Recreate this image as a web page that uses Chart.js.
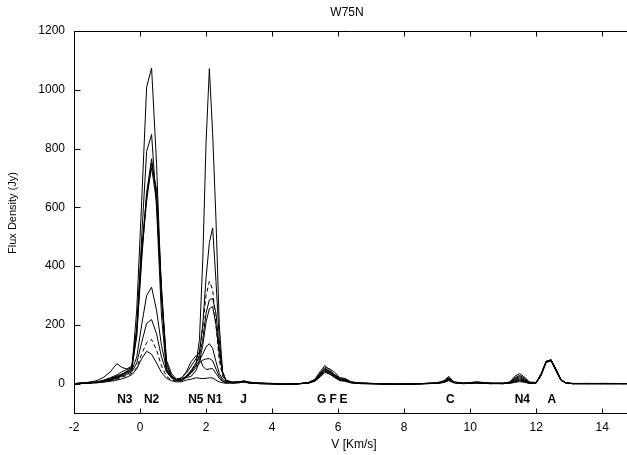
<!DOCTYPE html>
<html>
<head>
<meta charset="utf-8">
<title>W75N</title>
<script src="https://cdn.jsdelivr.net/npm/chart.js@4.4.1/dist/chart.umd.min.js"></script>
<style>
  html, body { margin: 0; padding: 0; background: #fff; }
  #wrap { position: relative; width: 627px; height: 455px; }
</style>
</head>
<body>
<div id="wrap"><canvas id="chart"></canvas></div>
<script>
// W75N maser spectra, one curve per epoch (velocity in km/s, flux in Jy)
const velocity = [
  -2.0, -1.6, -1.3, -1.1, -0.9, -0.7, -0.55, -0.4, -0.25, -0.1,
  0.05, 0.2, 0.35, 0.5, 0.65, 0.8, 0.95, 1.1, 1.25, 1.4,
  1.55, 1.7, 1.8, 1.9, 2.0, 2.1, 2.2, 2.3, 2.4, 2.5, 2.6,
  2.8, 3.0, 3.15, 3.3, 3.6, 4.0, 4.4, 4.8, 5.1, 5.3, 5.45, 5.6, 5.75, 5.9, 6.05, 6.2, 6.4, 6.7,
  7.2, 7.8, 8.5, 9.0, 9.2, 9.35, 9.5, 9.8, 10.2, 10.6, 11.0, 11.2, 11.35, 11.5, 11.65, 11.8,
  12.0, 12.15, 12.3, 12.45, 12.6, 12.75, 12.9, 13.1, 13.5, 14.0, 14.75
];

const flux1 = [
  0, 2, 5, 10, 18, 26, 32, 36, 45, 250,
  620, 1009, 1074, 750, 300, 45, 20, 12, 15, 25,
  45, 70, 150, 420, 820, 1072, 850, 560, 200, 40, 12,
  5, 6, 9, 5, 2, 1, -2, 0, 3, 15, 40, 62, 45, 30, 18, 14, 5, 2,
  0, -2, 0, 2, 8, 25, 6, 2, 5, 1, 2, 4, 25, 34, 22, 5,
  4, 32, 76, 80, 45, 12, 2, 0, 0, 0, 0
];
const flux2 = [
  0, 3, 6, 12, 20, 30, 40, 48, 55, 180,
  500, 790, 848, 600, 230, 45, 22, 15, 20, 35,
  60, 85, 110, 200, 360, 480, 530, 350, 150, 40, 10,
  4, 7, 8, 4, 1, 0, -3, -1, 4, 14, 35, 55, 50, 38, 20, 18, 6, 1,
  -1, -3, 0, 3, 10, 20, 5, 1, 6, 2, 1, 6, 20, 28, 18, 4,
  4, 33, 74, 81, 50, 14, 3, 0, 0, 1, 0
];
const flux3 = [
  0, 2, 4, 8, 14, 22, 30, 40, 50, 160,
  420, 650, 765, 640, 300, 60, 25, 10, 12, 25,
  45, 70, 95, 150, 240, 285, 290, 240, 120, 40, 12,
  3, 5, 7, 3, 0, -1, -2, 0, 2, 12, 30, 50, 42, 28, 15, 12, 4, 1,
  0, -2, -1, 1, 6, 18, 4, 0, 4, 1, 0, 5, 17, 24, 15, 3,
  3, 31, 76, 79, 48, 13, 2, 0, 1, 0, 0
];
const flux4 = [
  0, 2, 5, 9, 15, 24, 32, 42, 55, 170,
  440, 620, 750, 660, 330, 70, 28, 12, 10, 20,
  25, 45, 75, 130, 210, 255, 262, 200, 100, 35, 10,
  4, 4, 8, 4, 1, 0, -2, -1, 3, 13, 32, 52, 40, 30, 16, 15, 5, 2,
  0, -1, 0, 2, 7, 16, 5, 1, 3, 0, 1, 4, 14, 20, 12, 3,
  4, 34, 73, 80, 47, 13, 3, 1, 0, 0, 0
];
const flux5 = [
  0, 4, 10, 22, 40, 68, 55, 50, 60, 190,
  460, 640, 735, 620, 310, 80, 35, 15, 18, 40,
  75, 95, 92, 60, 48, 50, 51, 35, 18, 7, 3,
  5, 6, 9, 5, 2, 0, -1, 0, 2, 12, 30, 48, 38, 27, 14, 12, 4, 1,
  0, -2, 0, 1, 6, 14, 4, 1, 4, 1, 1, 3, 11, 16, 10, 2,
  3, 32, 75, 82, 46, 12, 3, 0, 0, 0, 0
];
const flux6 = [
  0, 2, 5, 9, 14, 20, 28, 38, 45, 90,
  200, 300, 328, 250, 130, 50, 25, 12, 12, 25,
  40, 62, 80, 100, 125, 136, 120, 75, 35, 15, 6,
  3, 4, 7, 3, 1, 0, -2, 0, 2, 10, 26, 44, 36, 24, 13, 10, 4, 1,
  0, -2, 0, 1, 5, 15, 4, 0, 3, 1, 0, 3, 8, 13, 8, 2,
  3, 30, 74, 79, 46, 12, 2, 0, 0, 0, 0
];
const flux7 = [
  0, 2, 4, 8, 12, 18, 25, 32, 40, 70,
  140, 205, 218, 170, 90, 40, 20, 10, 10, 22,
  35, 55, 70, 80, 84, 85, 78, 50, 25, 10, 4,
  2, 3, 6, 2, 0, -1, -3, -1, 2, 10, 25, 42, 34, 22, 12, 10, 3, 0,
  -1, -3, -1, 1, 4, 12, 3, 0, 2, 0, 0, 2, 6, 10, 6, 1,
  2, 29, 73, 78, 44, 11, 2, 0, 0, 0, 0
];
// dashed curve
const flux8 = [
  0, 1, 3, 6, 10, 15, 22, 28, 35, 55,
  100, 140, 150, 115, 60, 25, 12, 8, 10, 22,
  40, 60, 100, 190, 300, 348, 320, 200, 80, 25, 8,
  3, 4, 6, 3, 1, 0, -2, 0, 2, 11, 28, 46, 40, 26, 14, 11, 4, 1,
  0, -2, 0, 2, 6, 17, 4, 1, 4, 1, 0, 4, 10, 15, 9, 2,
  3, 32, 74, 80, 47, 13, 3, 0, 0, 0, 0
];
const flux9 = [
  0, 1, 3, 5, 8, 12, 16, 22, 30, 50,
  85, 110, 100, 70, 38, 18, 10, 6, 6, 12,
  15, 20, 18, 17, 18, 20, 19, 12, 6, 3, 1,
  2, 3, 5, 2, 0, -1, -2, 0, 1, 8, 22, 38, 32, 20, 10, 8, 2, 0,
  -1, -2, 0, 1, 4, 10, 3, 0, 2, 0, 0, 1, 4, 7, 4, 1,
  2, 28, 72, 77, 43, 11, 2, 0, 0, 0, 0
];

const allSeries = [flux1, flux2, flux3, flux4, flux5, flux6, flux7, flux8, flux9];
const dashedIndex = 7;

const xTicks = [-2, 0, 2, 4, 6, 8, 10, 12, 14];
const yTicks = [0, 200, 400, 600, 800, 1000, 1200];

// feature labels under the spectra
const featureNames = ["N3", "N2", "N5", "N1", "J", "G", "F", "E", "C", "N4", "A"];
const featureVel = [-0.46, 0.35, 1.69, 2.26, 3.14, 5.5, 5.85, 6.16, 9.4, 11.58, 12.47];
const featureLevel = -56;

const FONT = "'Liberation Sans', Arial, Helvetica, sans-serif";

const datasets = allSeries.map((s, i) => ({
  data: velocity.map((v, k) => ({ x: v, y: s[k] })),
  borderColor: "#000",
  borderWidth: 1,
  borderDash: i === dashedIndex ? [4, 3] : [],
  pointRadius: 0,
  tension: 0,
  fill: false,
}));

const framePlugin = {
  id: "frame",
  afterDraw(chart) {
    const { ctx, chartArea: a } = chart;
    const xs = chart.scales.x, ys = chart.scales.y;
    ctx.save();
    ctx.strokeStyle = "#000";
    ctx.lineWidth = 1;
    ctx.setLineDash([]);
    ctx.beginPath();
    const L = Math.round(a.left) + 0.5, B = Math.round(a.bottom) + 0.5, T = Math.round(a.top) + 0.5;
    ctx.moveTo(a.right, T); ctx.lineTo(L, T); ctx.lineTo(L, B); ctx.lineTo(a.right, B);
    xTicks.forEach(v => {
      const px = Math.round(xs.getPixelForValue(v)) + 0.5;
      ctx.moveTo(px, B); ctx.lineTo(px, B - 5);
      ctx.moveTo(px, T); ctx.lineTo(px, T + 5);
    });
    yTicks.forEach(v => {
      const py = Math.round(ys.getPixelForValue(v)) + 0.5;
      ctx.moveTo(L, py); ctx.lineTo(L + 6, py);
    });
    ctx.stroke();

    ctx.fillStyle = "#000";
    ctx.textAlign = "center";
    ctx.textBaseline = "middle";
    ctx.font = "bold 12px " + FONT;
    featureNames.forEach((name, i) => {
      ctx.fillText(name, xs.getPixelForValue(featureVel[i]), ys.getPixelForValue(featureLevel));
    });

    ctx.font = "12px " + FONT;
    ctx.fillText("W75N", 347, 13);
    ctx.fillText("V [Km/s]", 354, 445);
    ctx.translate(13, 213);
    ctx.rotate(-Math.PI / 2);
    ctx.font = "11px " + FONT;
    ctx.fillText("Flux Density (Jy)", 0, 0);
    ctx.restore();
  },
};

new Chart(document.getElementById("chart"), {
  type: "line",
  data: { datasets },
  options: {
    responsive: true,
    maintainAspectRatio: false,
    animation: false,
    layout: { padding: { top: 31, left: 0, right: 0, bottom: 0 } },
    plugins: { legend: { display: false }, tooltip: { enabled: false } },
    scales: {
      x: {
        type: "linear",
        min: -2,
        max: 14.75,
        afterBuildTicks: s => { s.ticks = xTicks.map(v => ({ value: v })); },
        afterFit: s => { s.height = 42; },
        grid: { display: false, drawTicks: false },
        border: { display: false },
        ticks: { color: "#000", font: { family: FONT, size: 12 }, padding: 7, maxRotation: 0, callback: v => String(v) },
      },
      y: {
        type: "linear",
        min: -100,
        max: 1200,
        afterBuildTicks: s => { s.ticks = yTicks.map(v => ({ value: v })); },
        afterFit: s => { s.width = 74; },
        grid: { display: false, drawTicks: false },
        border: { display: false },
        ticks: { color: "#000", font: { family: FONT, size: 12 }, padding: 9, callback: v => String(v) },
      },
    },
  },
  plugins: [framePlugin],
});
</script>
</body>
</html>
